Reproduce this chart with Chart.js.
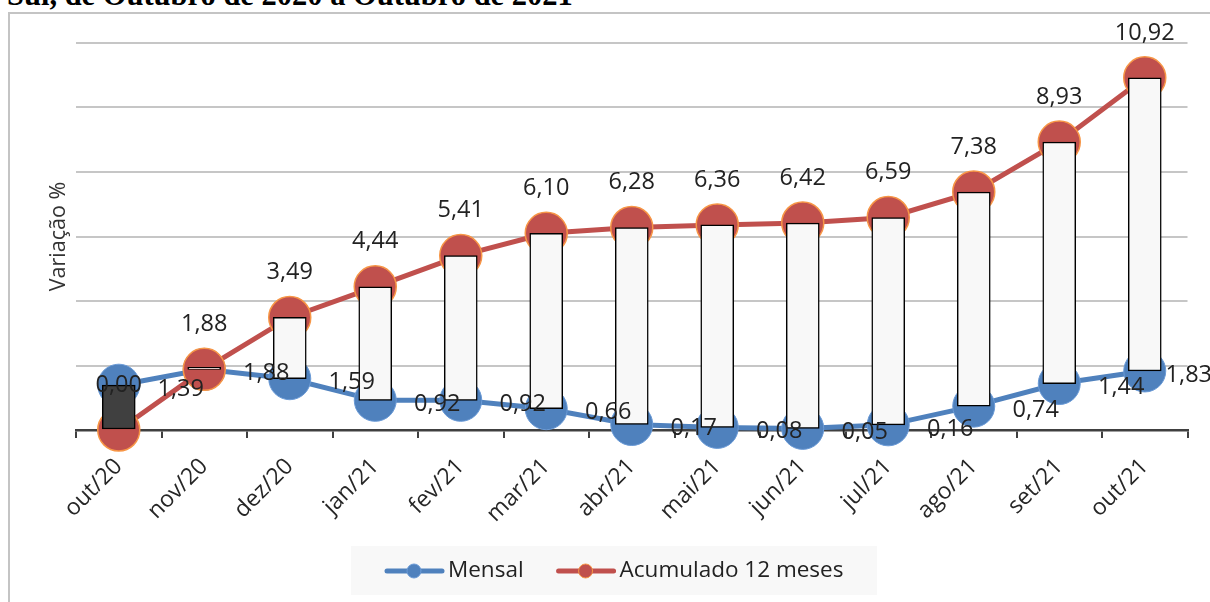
<!DOCTYPE html>
<html lang="pt">
<head>
    <meta charset="UTF-8">
    <title>Variação mensal e acumulada</title>
    <script src="https://cdn.jsdelivr.net/npm/chart.js"></script>
    <style>
        html, body {
            margin: 0;
            padding: 0;
            width: 1210px;
            height: 602px;
            overflow: hidden;
            background: #ffffff;
        }
        .titulo {
            position: absolute;
            left: 7px;
            top: -22px;
            font-family: "Liberation Serif", "Times New Roman", serif;
            font-weight: bold;
            font-size: 30.5px;
            line-height: 34px;
            color: #000;
            white-space: nowrap;
        }
        .moldura {
            position: absolute;
            left: 8px;
            top: 12px;
            width: 1300px;
            height: 700px;
            border: 2px solid #c4c4c4;
        }
        #grafico {
            position: absolute;
            left: 10px;
            top: 14px;
        }
    </style>
</head>
<body>
    <div class="titulo">Sul, de Outubro de 2020 a Outubro de 2021</div>
    <div class="moldura"></div>
    <canvas id="grafico" width="1200" height="588"></canvas>

    <script>
        // Dados (variação %)
        const meses = ['out/20', 'nov/20', 'dez/20', 'jan/21', 'fev/21', 'mar/21', 'abr/21',
                       'mai/21', 'jun/21', 'jul/21', 'ago/21', 'set/21', 'out/21'];
        const mensal = [1.39, 1.88, 1.59, 0.92, 0.92, 0.66, 0.17, 0.08, 0.05, 0.16, 0.74, 1.44, 1.83];
        const acumulado = [0.00, 1.88, 3.49, 4.44, 5.41, 6.10, 6.28, 6.36, 6.42, 6.59, 7.38, 8.93, 10.92];
        const eixoY = { min: 0, max: 12, passo: 2 };

        const azul = '#4F81BD';
        const vermelho = '#C0504D';
        const fonte = '"Open Sans", "Noto Sans", sans-serif';

        // barras de alta/baixa entre as duas séries (estilo Excel)
        const barras = mensal.map((m, i) => [m, acumulado[i]]);
        const corBarras = mensal.map((m, i) => m > acumulado[i] ? '#404040' : '#f8f8f8');

        function formata(v) {
            return v.toFixed(2).replace('.', ',');
        }

        // rótulos de dados: vermelho acima do ponto, azul à direita
        const rotulos = {
            id: 'rotulos',
            afterDatasetsDraw(chart) {
                const ctx = chart.ctx;
                ctx.save();
                ctx.font = '23.5px ' + fonte;
                ctx.fillStyle = '#222222';
                ctx.textAlign = 'center';
                ctx.textBaseline = 'middle';
                const series = [
                    { idx: 1, valores: mensal, dx: 62, dy: 4 },
                    { idx: 2, valores: acumulado, dx: 0, dy: -45 }
                ];
                series.forEach(s => {
                    chart.getDatasetMeta(s.idx).data.forEach((p, i) => {
                        const txt = formata(s.valores[i]);
                        const meia = ctx.measureText(txt).width / 2;
                        let x = p.x + s.dx;
                        x = Math.min(x, chart.width - meia + 2);
                        ctx.fillText(txt, x, p.y + s.dy);
                    });
                });
                ctx.restore();
            }
        };

        // legenda desenhada à mão (linha com marcador)
        const legenda = {
            id: 'legenda',
            afterDraw(chart) {
                const ctx = chart.ctx;
                ctx.save();
                ctx.fillStyle = '#f8f8f8';
                ctx.fillRect(341, 532, 526, 49);
                ctx.font = '22.5px ' + fonte;
                ctx.textBaseline = 'middle';
                const y = 557;
                let x = 377;
                [
                    { nome: 'Mensal', cor: azul, borda: '#6a9ad6' },
                    { nome: 'Acumulado 12 meses', cor: vermelho, borda: '#F79646' }
                ].forEach(item => {
                    ctx.strokeStyle = item.cor;
                    ctx.lineWidth = 5;
                    ctx.lineCap = 'round';
                    ctx.beginPath();
                    ctx.moveTo(x, y);
                    ctx.lineTo(x + 55, y);
                    ctx.stroke();
                    ctx.beginPath();
                    ctx.arc(x + 27, y, 7, 0, Math.PI * 2);
                    ctx.fillStyle = item.cor;
                    ctx.fill();
                    ctx.lineWidth = 1;
                    ctx.strokeStyle = item.borda;
                    ctx.stroke();
                    ctx.fillStyle = '#222222';
                    ctx.fillText(item.nome, x + 61, y);
                    x += 61 + ctx.measureText(item.nome).width + 35;
                });
                ctx.restore();
            }
        };

        const ctx = document.getElementById('grafico').getContext('2d');
        new Chart(ctx, {
            type: 'bar',
            data: {
                labels: meses,
                datasets: [
                    {
                        type: 'bar',
                        label: 'Barras',
                        data: barras,
                        backgroundColor: corBarras,
                        borderColor: '#000000',
                        borderWidth: 1.5,
                        borderSkipped: false,
                        barThickness: 33,
                        minBarLength: 2,
                        order: 0
                    },
                    {
                        type: 'line',
                        label: 'Mensal',
                        data: mensal,
                        borderColor: azul,
                        backgroundColor: azul,
                        borderWidth: 5,
                        pointRadius: 21,
                        pointBorderWidth: 1,
                        pointBorderColor: '#6a9ad6',
                        pointBackgroundColor: azul,
                        tension: 0,
                        clip: false,
                        order: 2
                    },
                    {
                        type: 'line',
                        label: 'Acumulado 12 meses',
                        data: acumulado,
                        borderColor: vermelho,
                        backgroundColor: vermelho,
                        borderWidth: 5,
                        pointRadius: 21,
                        pointBorderWidth: 1.5,
                        pointBorderColor: '#F79646',
                        pointBackgroundColor: vermelho,
                        tension: 0,
                        clip: false,
                        order: 1
                    }
                ]
            },
            options: {
                responsive: false,
                animation: false,
                layout: {
                    padding: { top: 29, left: 0, right: 20, bottom: 72 }
                },
                plugins: {
                    legend: { display: false },
                    tooltip: { enabled: false }
                },
                scales: {
                    x: {
                        afterFit: (scale) => { scale.height = 100; },
                        grid: {
                            drawOnChartArea: false,
                            drawTicks: true,
                            tickLength: 8,
                            color: '#404040',
                            lineWidth: 2
                        },
                        border: { color: '#404040', width: 2.5 },
                        ticks: {
                            autoSkip: false,
                            minRotation: 45,
                            maxRotation: 45,
                            padding: 15,
                            color: '#262626',
                            font: { family: fonte, size: 23 }
                        }
                    },
                    y: {
                        min: eixoY.min,
                        max: eixoY.max,
                        afterFit: (scale) => { scale.width = 66; },
                        grid: {
                            color: '#c6c6c6',
                            lineWidth: 2,
                            drawTicks: false
                        },
                        border: { display: false },
                        ticks: { display: false, stepSize: eixoY.passo },
                        title: {
                            display: true,
                            text: 'Variação %',
                            color: '#333333',
                            font: { family: fonte, size: 21.5 },
                            padding: { top: 36, bottom: 0 }
                        }
                    }
                }
            },
            plugins: [rotulos, legenda]
        });
    </script>
</body>
</html>
